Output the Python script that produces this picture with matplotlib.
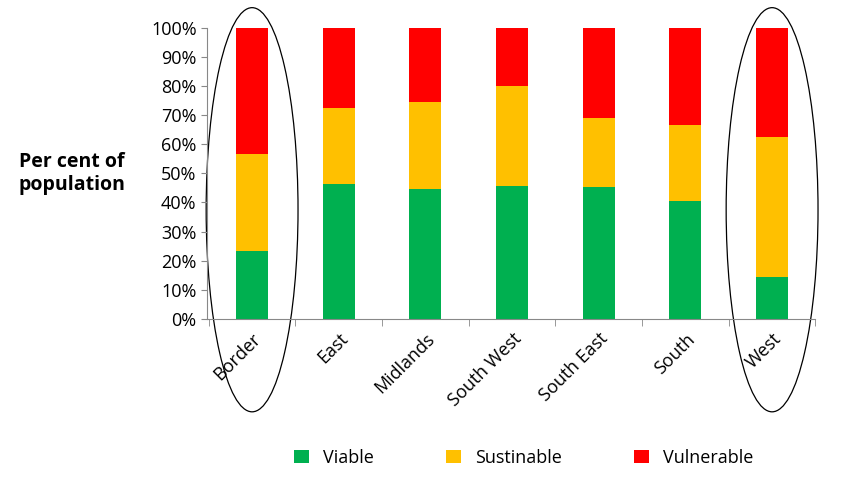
import numpy as np
import matplotlib.pyplot as plt
from matplotlib.patches import Ellipse

regions = ["Border", "East", "Midlands", "South West", "South East", "South", "West"]
viable = [23.4, 46.4, 44.7, 45.7, 45.4, 40.5, 14.4]
sustainable = [33.3, 26.1, 29.9, 34.3, 23.6, 26.2, 48.1]
vulnerable = [100 - v - s for v, s in zip(viable, sustainable)]

plt.rcParams['font.family'] = ['Open Sans', 'DejaVu Sans']

fig = plt.figure(figsize=(8.45, 4.83), dpi=100)
ax = fig.add_axes([0.245, 0.34, 0.72, 0.602])

x = np.arange(len(regions))
w = 0.37
ax.bar(x, viable, w, color="#00B050", label="Viable")
ax.bar(x, sustainable, w, bottom=viable, color="#FFC000", label="Sustinable")
bot = np.array(viable) + np.array(sustainable)
ax.bar(x, vulnerable, w, bottom=bot, color="#FF0000", label="Vulnerable")

ax.set_xlim(-0.52, 6.47)
ax.set_ylim(0, 100)
ax.set_yticks(range(0, 101, 10))
ax.set_yticklabels([f"{v}%" for v in range(0, 101, 10)], fontsize=13)
ax.set_xticks(x)
ax.set_xticklabels(regions, rotation=45, ha="right", rotation_mode="anchor", fontsize=13)
ax.set_xticks(np.arange(-0.5, 6.6, 1), minor=True)
ax.tick_params(axis="x", which="major", length=0, pad=8)
ax.tick_params(axis="x", which="minor", length=5, color="#888888")
ax.tick_params(axis="y", length=4, color="#888888")
for s in ["top", "right"]:
    ax.spines[s].set_visible(False)
for s in ["left", "bottom"]:
    ax.spines[s].set_color("#888888")

for cx in [0, 6]:
    ax.add_patch(Ellipse((cx, 37.5), 1.06, 139, fill=False, edgecolor="black",
                         linewidth=0.9, clip_on=False))

fig.text(0.085, 0.64, "Per cent of\npopulation", fontsize=14, fontweight="bold",
         ha="center", va="center")

fig.legend(loc="lower center", bbox_to_anchor=(0.62, 0.0), ncol=3, frameon=False,
           fontsize=13, handlelength=0.8, handleheight=0.8, columnspacing=4)

fig.savefig("out.png")
